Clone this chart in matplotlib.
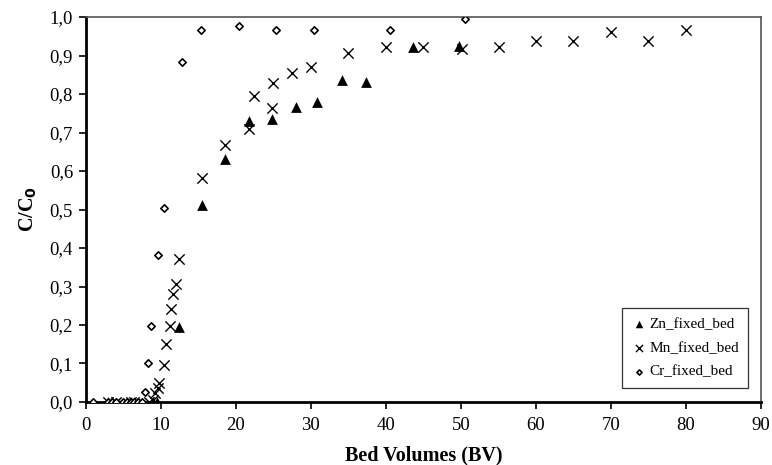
import matplotlib
matplotlib.use("Agg")
import matplotlib.pyplot as plt

plt.rcParams['font.family'] = ['Liberation Serif', 'DejaVu Serif']

zn_x = [3.0, 3.5, 6.0, 6.5, 9.0, 9.5, 12.5, 15.5, 18.6, 21.8, 24.9, 28.0, 30.9, 34.2, 37.4, 43.6, 49.8]
zn_y = [0.0, 0.0, 0.0, 0.0, 0.0, 0.0, 0.196, 0.512, 0.630, 0.730, 0.735, 0.765, 0.780, 0.836, 0.832, 0.921, 0.925]

mn_x = [3.0, 4.0, 6.0, 6.5, 8.5, 9.0, 9.3, 9.6, 9.8, 10.4, 10.7, 11.2, 11.4, 11.6, 12.0, 12.4,
        15.5, 18.6, 21.8, 22.5, 24.9, 25.0, 27.5, 30.0, 35.0, 40.0, 45.0, 50.1, 55.1, 60.0,
        65.0, 70.0, 75.0, 80.0]
mn_y = [0.0, 0.0, 0.0, 0.0, 0.0, 0.005, 0.023, 0.036, 0.049, 0.096, 0.151, 0.198, 0.241, 0.280, 0.306, 0.371,
        0.581, 0.667, 0.710, 0.795, 0.763, 0.828, 0.855, 0.871, 0.906, 0.922, 0.922, 0.918, 0.922, 0.938,
        0.938, 0.962, 0.938, 0.966]

cr_x = [1.0, 3.0, 3.5, 4.0, 5.0, 5.5, 6.0, 6.5, 7.0, 7.5, 7.9, 8.3, 8.7, 9.6, 10.5,
        12.9, 15.4, 20.5, 25.4, 30.5, 40.5, 50.6]
cr_y = [0.0, 0.0, 0.0, 0.0, 0.0, 0.0, 0.0, 0.0, 0.0, 0.0, 0.027, 0.100, 0.197, 0.382, 0.505,
        0.884, 0.965, 0.977, 0.967, 0.967, 0.967, 0.996]

x_ticks = [0, 10, 20, 30, 40, 50, 60, 70, 80, 90]
y_ticks = [0.0, 0.1, 0.2, 0.3, 0.4, 0.5, 0.6, 0.7, 0.8, 0.9, 1.0]
y_tick_labels = ['0,0', '0,1', '0,2', '0,3', '0,4', '0,5', '0,6', '0,7', '0,8', '0,9', '1,0']

fig = plt.figure(figsize=(7.72, 4.65), dpi=100)
ax = fig.add_axes([0.1108, 0.1355, 0.8750, 0.8279])

ax.scatter(zn_x, zn_y, marker='^', s=60, c='black', linewidths=0, label='Zn_fixed_bed', zorder=3)
ax.scatter(mn_x, mn_y, marker='x', s=55, c='black', linewidths=1.0, label='Mn_fixed_bed', zorder=3)
ax.scatter(cr_x, cr_y, marker='D', s=14, facecolors='white', edgecolors='black', linewidths=1.2,
           label='Cr_fixed_bed', zorder=4)

ax.set_xlim(0, 90)
ax.set_ylim(0, 1.0)
ax.set_xticks(x_ticks)
ax.set_yticks(y_ticks)
ax.set_yticklabels(y_tick_labels)
ax.tick_params(axis='both', direction='out', length=5, width=1.2, labelsize=13.5)
ax.tick_params(axis='x', pad=6)
ax.tick_params(axis='y', pad=4)

for side in ['left', 'bottom']:
    ax.spines[side].set_linewidth(2.0)
    ax.spines[side].set_color('black')
for side in ['top', 'right']:
    ax.spines[side].set_linewidth(1.2)
    ax.spines[side].set_color('#555555')

ax.set_xlabel('Bed Volumes (BV)', fontsize=14.5, fontweight='bold', labelpad=8)
ax.set_ylabel('C/C$_\\mathbf{0}$', fontsize=14.5, fontweight='bold', labelpad=8)

leg = ax.legend(loc='lower right', bbox_to_anchor=(0.981, 0.037), fontsize=11, frameon=True,
                fancybox=False, edgecolor='black', borderpad=0.6, labelspacing=0.65,
                handletextpad=0.2, handlelength=1.0, borderaxespad=0.0, markerscale=0.7)
leg.get_frame().set_linewidth(0.9)

fig.savefig('out.png', dpi=100)
